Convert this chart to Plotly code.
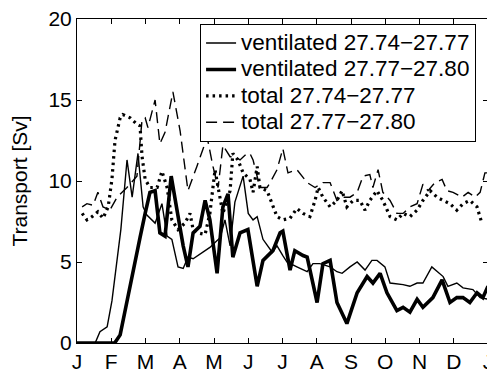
import plotly.graph_objects as go

month_labels = ["J", "F", "M", "A", "M", "J", "J", "A", "S", "O", "N", "D", "J"]
month_ticks = list(range(13))
series_names = ["ventilated 27.74\u221227.77", "ventilated 27.77\u221227.80",
                "total 27.74\u221227.77", "total 27.77\u221227.80"]

# ventilated 27.74-27.77 (thin solid)
vent1_t = [0, 0.53, 0.67, 0.88, 1.02, 1.17, 1.28, 1.46, 1.61, 1.78, 1.93, 2.04, 2.28, 2.48, 2.63, 2.77,
           2.95, 3.10, 3.24, 3.39, 3.65, 3.88, 4.03, 4.18, 4.32, 4.47, 4.61, 4.85, 5.00, 5.14, 5.26,
           5.43, 5.70, 5.84, 6.01, 6.13, 6.42, 6.72, 6.89, 7.09, 7.39, 7.59, 7.74, 7.97, 8.18, 8.41,
           8.61, 8.76, 8.99, 9.14, 9.52, 9.72, 9.93, 10.10, 10.36, 10.51, 10.69, 10.83, 11.09, 11.27,
           11.56, 11.77, 12.0]
vent1_v = [0, 0, 0.7, 1.0, 2.6, 5.0, 7.0, 11.3, 9.0, 11.7, 8.4, 7.9, 7.4, 8.6, 6.6, 6.4,
           4.7, 4.6, 5.3, 5.2, 5.6, 5.9, 6.2, 6.5, 7.6, 6.0, 8.7, 10.3, 8.0, 7.6, 7.8,
           6.4, 5.6, 6.0, 5.4, 5.0, 4.7, 4.4, 4.9, 4.9, 4.7, 4.4, 4.3, 4.7, 5.0, 4.5,
           5.1, 5.1, 4.7, 3.7, 3.6, 3.5, 3.7, 3.7, 4.7, 4.4, 4.1, 3.5, 3.7, 3.4,
           3.3, 2.8, 2.7]

# ventilated 27.77-27.80 (thick solid)
vent2_t = [0, 1.10, 1.26, 1.40, 1.55, 1.69, 1.84, 1.99, 2.13, 2.28, 2.42, 2.57, 2.75, 2.92, 3.10,
           3.24, 3.39, 3.59, 3.74, 3.88, 4.09, 4.26, 4.41, 4.55, 4.76, 4.99, 5.26, 5.43, 5.72, 5.93,
           6.01, 6.22, 6.36, 6.60, 6.72, 7.01, 7.18, 7.39, 7.59, 7.88, 8.18, 8.47, 8.64, 8.85, 9.05,
           9.34, 9.52, 9.72, 9.93, 10.10, 10.39, 10.66, 10.89, 11.09, 11.27, 11.47, 11.68, 11.85, 12.0]
vent2_v = [0, 0, 0.5, 2.0, 3.4, 5.0, 6.5, 8.0, 9.3, 9.4, 6.8, 6.6, 10.3, 8.2, 6.0,
           4.7, 6.8, 7.2, 8.8, 7.6, 4.3, 8.4, 9.2, 5.3, 6.8, 7.0, 3.5, 5.1, 5.7, 6.8,
           6.9, 4.5, 5.7, 5.4, 5.3, 2.5, 4.9, 5.1, 2.5, 1.2, 3.1, 4.1, 3.7, 4.3, 3.1,
           2.0, 2.2, 1.9, 2.7, 2.2, 2.8, 3.9, 2.5, 2.8, 2.8, 2.5, 3.1, 2.8, 3.5]

# total 27.74-27.77 (dotted)
total1_t = [0.15, 0.29, 0.44, 0.61, 0.76, 0.91, 1.02, 1.11, 1.26, 1.34, 1.55, 1.75, 1.84, 1.90, 1.99,
            2.13, 2.34, 2.48, 2.63, 2.77, 2.95, 3.15, 3.30, 3.39, 3.53, 3.74, 3.88, 4.03, 4.12, 4.26,
            4.47, 4.55, 4.70, 4.85, 5.05, 5.14, 5.26, 5.34, 5.55, 5.72, 5.84, 6.01, 6.22, 6.42, 6.60,
            6.80, 6.95, 7.04, 7.18, 7.39, 7.59, 7.74, 7.88, 8.06, 8.26, 8.41, 8.55, 8.76, 8.93, 9.14,
            9.34, 9.52, 9.72, 9.93, 10.10, 10.31, 10.51, 10.69, 10.89, 11.09, 11.27, 11.47, 11.68, 11.82]
total1_v = [8.0, 7.6, 7.8, 8.1, 7.7, 8.4, 10.1, 12.5, 13.9, 14.1, 13.9, 13.5, 13.4, 11.5, 10.1,
            9.6, 9.6, 10.6, 9.6, 7.6, 7.0, 7.4, 8.0, 7.0, 6.8, 6.7, 8.0, 10.7, 9.6, 8.0,
            9.4, 11.7, 11.3, 10.5, 10.1, 9.3, 10.9, 9.6, 9.4, 8.4, 7.8, 7.6, 7.7, 8.3, 8.0,
            7.8, 8.8, 9.6, 9.0, 8.4, 8.8, 9.4, 8.4, 8.8, 8.8, 8.2, 8.8, 9.4, 8.8, 7.8,
            7.6, 8.0, 7.8, 8.2, 8.8, 9.4, 9.0, 8.8, 8.6, 8.2, 8.6, 8.8, 8.4, 7.4]

# total 27.77-27.80 (dashed)
total2_t = [0.15, 0.29, 0.47, 0.61, 0.76, 0.96, 1.17, 1.46, 1.75, 1.90, 1.99, 2.07, 2.28, 2.42, 2.57,
            2.80, 3.01, 3.24, 3.50, 3.80, 3.97, 4.12, 4.26, 4.47, 4.61, 4.76, 4.96, 5.05, 5.14, 5.34,
            5.55, 5.64, 5.84, 6.01, 6.16, 6.42, 6.72, 6.95, 7.18, 7.39, 7.59, 7.77, 7.97, 8.18, 8.35,
            8.55, 8.64, 8.79, 8.93, 9.14, 9.34, 9.52, 9.72, 9.93, 10.10, 10.25, 10.45, 10.66, 10.80,
            10.98, 11.24, 11.42, 11.62, 11.77, 11.91, 12.0]
total2_v = [8.4, 8.6, 8.5, 9.3, 8.4, 8.2, 9.0, 9.6, 10.3, 13.8, 13.9, 13.3, 15.0, 12.3, 13.0,
            15.5, 13.1, 9.4, 10.9, 12.7, 10.9, 9.6, 12.2, 11.5, 11.5, 11.3, 11.7, 11.7, 11.3, 9.6,
            9.6, 9.9, 10.7, 12.0, 10.5, 10.7, 9.9, 9.6, 9.9, 9.9, 8.8, 9.0, 9.0, 9.3, 10.3,
            10.4, 9.6, 10.7, 9.3, 8.8, 8.0, 8.0, 8.4, 8.6, 9.8, 9.4, 9.9, 10.1, 9.4,
            9.3, 9.0, 9.3, 9.0, 9.3, 10.5, 10.5]


def legend_label(name):
    # larger visible text while keeping the compact legend row height
    return '<span style="font-size:22.5px">' + name + '</span>'


fig = go.Figure()
fig.add_trace(go.Scatter(x=vent1_t, y=vent1_v, mode="lines", name=legend_label(series_names[0]),
                         line=dict(color="black", width=1.4)))
fig.add_trace(go.Scatter(x=vent2_t, y=vent2_v, mode="lines", name=legend_label(series_names[1]),
                         line=dict(color="black", width=3.6)))
fig.add_trace(go.Scatter(x=total1_t, y=total1_v, mode="lines", name=legend_label(series_names[2]),
                         line=dict(color="black", width=3.2, dash="2.5px,4px")))
fig.add_trace(go.Scatter(x=total2_t, y=total2_v, mode="lines", name=legend_label(series_names[3]),
                         line=dict(color="black", width=1.4, dash="11px,6px")))

font_family = "Liberation Sans, Arial, sans-serif"
# the page body adds an 8px offset; size the figure so it ends at the window edge
fig.update_layout(
    width=487, height=365,
    margin=dict(l=69, r=7, t=11, b=30),
    paper_bgcolor="white", plot_bgcolor="white",
    font=dict(family=font_family, color="black", size=21),
    showlegend=True,
    legend=dict(x=0.971, y=0.985, xanchor="right", yanchor="top",
                bordercolor="black", borderwidth=1, bgcolor="white",
                font=dict(size=18, family=font_family), tracegroupgap=0,
                itemwidth=30),
    xaxis=dict(range=[0, 12], tickvals=month_ticks, ticktext=month_labels,
               ticks="inside", ticklen=5, tickcolor="black", showline=True,
               linecolor="black", linewidth=1, mirror="ticks", showgrid=False,
               zeroline=False, tickfont=dict(size=21), automargin=False,
               ticklabeloverflow="allow"),
    yaxis=dict(range=[0, 20], tickvals=[0, 5, 10, 15, 20],
               ticks="inside", ticklen=5, tickcolor="black", showline=True,
               linecolor="black", linewidth=1, mirror="ticks", showgrid=False,
               zeroline=False, tickfont=dict(size=21), automargin=False,
               ticklabeloverflow="allow",
               title=dict(text="Transport [Sv]", font=dict(size=21), standoff=15)),
)

fig.write_html("out.html")
